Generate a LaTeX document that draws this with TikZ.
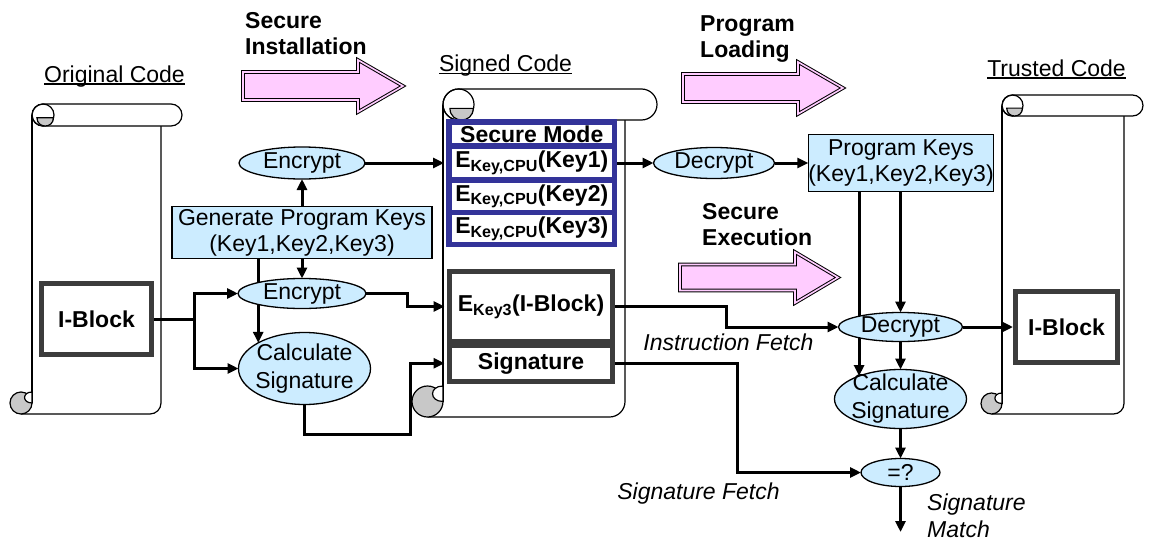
\documentclass[tikz,border=0pt]{standalone}
\usepackage{fontspec}
\setmainfont{Liberation Sans}
\usetikzlibrary{shapes.geometric,arrows.meta,calc}
\pgfdeclarelayer{scrolls}
\pgfdeclarelayer{wires}
\pgfsetlayers{scrolls,wires,main}
\definecolor{lblue}{HTML}{CCECFF}
\definecolor{pinkfill}{HTML}{FFCCFF}
\definecolor{rowblue}{HTML}{333399}
\definecolor{dgray}{HTML}{3C3C3C}
\definecolor{curlgray}{HTML}{C8C8C8}
\newcommand{\ulcode}[1]{\setbox0\hbox{#1}\rlap{\rule[-2.5pt]{\wd0}{1.3pt}}\box0}
% #1 L, #2 T, #3 body right, #4 roll right, #5 B, #6 r
\newcommand{\drawscroll}[6]{%
  \fill[white] (#1,{#2+#6}) rectangle (#3,#5);
  \draw[scrollline, rounded corners={#6*1pt}] ({#1-#6},#5) -- (#3,#5) -- (#3,{#2+2*#6});
  \draw[scrollline] (#1,{#2+#6}) -- (#1,{#5-#6});
  \filldraw[scrollline, fill=curlgray] ({#1-#6},{#5-#6}) circle[radius={#6*1pt}];
  \filldraw[scrollline, fill=white] (#1,{#5-2*#6}) .. controls ({#1-0.9*#6},{#5-2*#6}) and ({#1-0.9*#6},{#5-#6}) .. (#1,{#5-#6}) -- cycle;
  \filldraw[scrollline, fill=white, rounded corners={#6*1pt}] (#1,#2) rectangle (#4,{#2+2*#6});
  \draw[scrollline] ({#1+#6},{#2+#6}) circle[radius={#6*1pt}];
  \filldraw[scrollline, fill=curlgray] ({#1+0.45*#6},{#2+1.25*#6}) -- ({#1+1.95*#6},{#2+1.25*#6})
     .. controls ({#1+1.95*#6},{#2+2.25*#6}) and ({#1+0.45*#6},{#2+2.25*#6}) .. cycle;
}
\begin{document}
\begin{tikzpicture}[x=1pt,y=-1pt,
  every node/.style={font=\fontsize{23}{26}\selectfont},
  scrollline/.style={draw=black, line width=1.2pt},
  conn/.style={line width=3pt, line join=miter},
  arr/.style={conn, -{Triangle[length=11pt,width=10pt]}},
  ell/.style={ellipse, draw=black, line width=1.3pt, fill=lblue, inner xsep=-16pt, inner ysep=-9pt,
              outer sep=0pt, align=center, font=\fontsize{23}{28}\selectfont},
  keybox/.style={rectangle, draw=black, line width=1.5pt, fill=lblue, inner sep=0pt, outer sep=0pt, align=center},
  blockbox/.style={rectangle, draw=dgray, line width=5pt, fill=white, inner sep=0pt, outer sep=0pt,
              font=\fontsize{23}{26}\selectfont\bfseries},
  rowbox/.style={rectangle, draw=rowblue, line width=5.5pt, fill=white, inner sep=0pt, outer sep=0pt,
              minimum width=165.5pt, font=\fontsize{23}{26}\selectfont\bfseries},
  stage/.style={font=\fontsize{23}{26}\selectfont\bfseries, align=left, anchor=west, inner sep=0pt},
  bigarrow/.style={draw=black, line width=1pt, double=pinkfill, double distance=1.6pt, fill=pinkfill},
  lbl/.style={font=\fontsize{23}{27}\selectfont\itshape, inner sep=0pt},
  title/.style={anchor=base, inner sep=0pt}]
\useasboundingbox (0,0) rectangle (1157,541);

\begin{pgfonlayer}{scrolls}
  \fill[white] (0,0) rectangle (1157,541);
  \drawscroll{32}{104}{161}{182}{414}{11}
  \drawscroll{443}{89}{625}{657}{417}{15.5}
  \drawscroll{1002}{95}{1124}{1143}{414}{10.5}
\end{pgfonlayer}

% titles
\node[title] (tOrig) at (114.5,82) {\ulcode{Original Code}};
\node[title] (tSigned) at (505.5,71.5) {\ulcode{Signed Code}};
\node[title] (tTrusted) at (1056.5,76) {\ulcode{Trusted Code}};

% stage labels and big arrows
\node[stage] (sInst) at (245,33.5) {Secure\\Installation};
\node[stage] (sLoad) at (700,39.5) {Program\\Loading};
\node[stage] (sExec) at (702,224.5) {Secure\\Execution};
\draw[bigarrow] (243,72) -- (358,72) -- (358,60) -- (403,86) -- (358,112) -- (358,100) -- (243,100) -- cycle;
\draw[bigarrow] (683,74) -- (798,74) -- (798,62) -- (843,88) -- (798,114) -- (798,102) -- (683,102) -- cycle;
\draw[bigarrow] (680,264.5) -- (795,264.5) -- (795,252) -- (838,277.5) -- (795,303) -- (795,290.5) -- (680,290.5) -- cycle;

% left part
\node[blockbox, minimum width=110pt, minimum height=71pt] (ib1) at (96.5,319) {I-Block};
\node[ell, minimum width=126pt, minimum height=32pt] (enc1) at (302,163) {Encrypt};
\node[keybox, minimum width=260pt, minimum height=52pt] (gen) at (302,232.5) {Generate Program Keys\\(Key1,Key2,Key3)};
\node[ell, minimum width=128pt, minimum height=30pt] (enc2) at (302,293.5) {Encrypt};
\node[ell, minimum width=132pt, minimum height=72pt] (cs1) at (304.5,368.5) {Calculate\\Signature};

% signed code
\node[rowbox, minimum height=24pt] (sm) at (531.75,134) {Secure Mode};
\node[rowbox, minimum height=34pt] (k1) at (531.75,163) {E\textsubscript{Key,CPU}(Key1)};
\node[rowbox, minimum height=32.5pt] (k2) at (531.75,196.25) {E\textsubscript{Key,CPU}(Key2)};
\node[rowbox, minimum height=32pt] (k3) at (531.75,228.5) {E\textsubscript{Key,CPU}(Key3)};
\node[blockbox, minimum width=163pt, minimum height=70pt] (ek3) at (531,306.5) {E\textsubscript{Key3}(I-Block)};
\node[blockbox, minimum width=163pt, minimum height=36.5pt] (sig) at (531,363.25) {Signature};

% right part
\node[ell, minimum width=121pt, minimum height=31pt] (dec1) at (714,163) {Decrypt};
\node[keybox, minimum width=185pt, minimum height=57pt] (pk) at (901,163) {Program Keys\\(Key1,Key2,Key3)};
\node[ell, minimum width=124pt, minimum height=29pt] (dec2) at (900.5,327) {Decrypt};
\node[ell, minimum width=132pt, minimum height=59pt] (cs2) at (900.5,399) {Calculate\\Signature};
\node[ell, minimum width=79pt, minimum height=28pt, inner sep=0pt] (eq) at (900.5,472.5) {=?};
\node[blockbox, minimum width=102pt, minimum height=71pt] (ib2) at (1066.5,327) {I-Block};
\coordinate (out) at (900.5,532);

% italic labels
\node[lbl] (lIF) at (728.5,342) {Instruction Fetch};
\node[lbl] (lSF) at (698.5,494) {Signature Fetch};
\node[lbl, align=left, anchor=west] (lSM) at (927,516) {Signature\\Match};

\begin{pgfonlayer}{wires}
  \draw[arr] (ib1.east) -- ++(42.5,0) |- (enc2.west);
  \draw[arr] (ib1.east) -- ++(42.5,0) |- (cs1.west);
  \draw[arr] (gen.north) -- (enc1.south);
  \draw[arr] (gen.south) -- (enc2.north);
  \draw[arr] (gen.south -| cs1.151) -- (cs1.151);
  \draw[arr, shorten >=5pt] (enc1.east) -- (k1.west);
  \draw[arr, shorten >=5pt] (enc2.east) -- ++(41,0) |- (ek3.west);
  \draw[arr, shorten >=5pt] (cs1.south) -- ++(0,29.5) -| ([xshift=-39.5pt]sig.west) -- (sig.west);
  \draw[arr] (k1.east) -- (dec1.west);
  \draw[arr] (dec1.east) -- (pk.west);
  \draw[arr] (pk.south -| dec2.north) -- (dec2.north);
  \draw[arr] (pk.south -| cs2.151) -- (cs2.151);
  \draw[arr] (ek3.east) -- ++(113.5,0) |- (dec2.west);
  \draw[arr] (sig.east) -- ++(124.5,0) |- (eq.west);
  \draw[arr] (dec2.south) -- (cs2.north);
  \draw[arr, shorten >=2.5pt] (dec2.east) -- (ib2.west);
  \draw[arr] (cs2.south) -- (eq.north);
  \draw[arr] (eq.south) -- (out);
\end{pgfonlayer}
\end{tikzpicture}
\end{document}
